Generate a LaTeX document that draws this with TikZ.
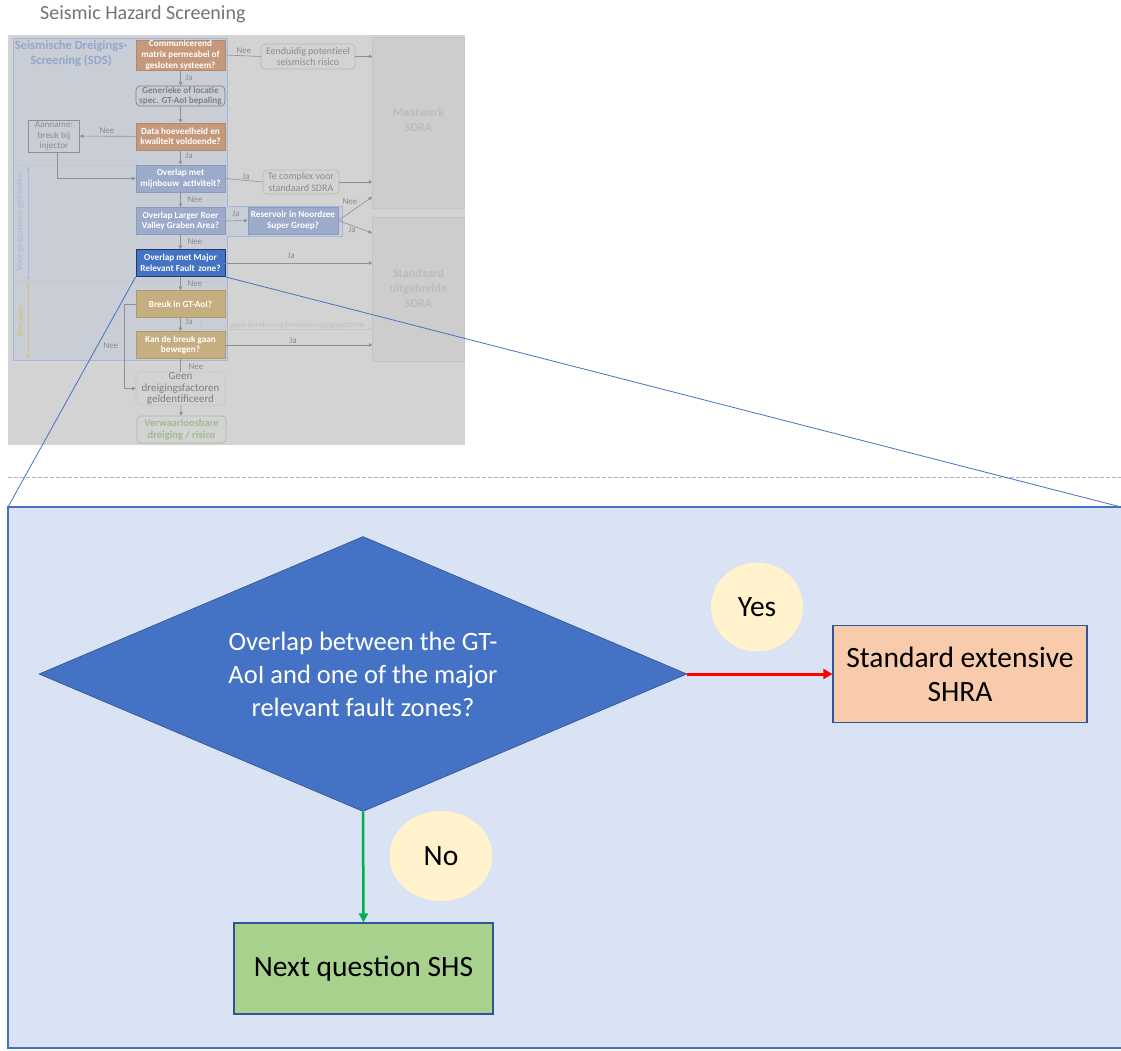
\documentclass[tikz,border=0pt]{standalone}
\usepackage{fontspec}
\setmainfont{Carlito}
\usetikzlibrary{arrows.meta,shapes.geometric,calc}
\definecolor{cBg}{HTML}{D3D3D3}
\definecolor{cPanel}{HTML}{C9CDD6}
\definecolor{cPanelD}{HTML}{A4B7DA}
\definecolor{cPanelT}{HTML}{93A7CC}
\definecolor{cOr}{HTML}{C6997B}
\definecolor{cOrD}{HTML}{B08A70}
\definecolor{cBl}{HTML}{9BABC9}
\definecolor{cBlD}{HTML}{8A9BBD}
\definecolor{cDB}{HTML}{4472C4}
\definecolor{cDBD}{HTML}{2F528F}
\definecolor{cGo}{HTML}{C5AE80}
\definecolor{cGoD}{HTML}{B09A6E}
\definecolor{cTxt}{HTML}{8C8C8C}
\definecolor{cLine}{HTML}{909090}
\definecolor{cMaat}{HTML}{CDCDCD}
\definecolor{cMaatD}{HTML}{C4C4C4}
\definecolor{cMaatT}{HTML}{BCBCBC}
\definecolor{cGreenT}{HTML}{A2BA92}
\definecolor{cGreenD}{HTML}{A6BE98}
\definecolor{cVoor}{HTML}{A7BADB}
\definecolor{cBreuk}{HTML}{D4BF8A}
\definecolor{cBig}{HTML}{DAE3F3}
\definecolor{cYes}{HTML}{FFF2CC}
\definecolor{cStd}{HTML}{F8CBAD}
\definecolor{cNext}{HTML}{A9D18E}
\definecolor{cBoxD}{HTML}{2F5597}
\definecolor{cGreenA}{HTML}{00B050}
\begin{document}
\begin{tikzpicture}[x=1pt,y=-1pt,
  thumbq/.style={rectangle,minimum width=89pt,minimum height=27pt,inner sep=0pt,align=center,text=white,line width=0.8pt,font=\fontsize{9.2}{10.6}\selectfont\bfseries},
  orangeq/.style={thumbq,fill=cOr,draw=cOrD},
  blueq/.style={thumbq,fill=cBl,draw=cBlD},
  darkq/.style={thumbq,fill=cDB,draw=cDBD!70!black},
  goldq/.style={thumbq,fill=cGo,draw=cGoD},
  roundq/.style={rectangle,rounded corners=4pt,inner sep=0pt,align=center,line width=0.7pt,font=\fontsize{10}{11.2}\selectfont},
  bigbox/.style={rectangle,fill=cMaat,draw=cMaatD,inner sep=0pt},
  bigtext/.style={text=cMaatT,font=\fontsize{12}{15}\selectfont\bfseries,align=center,inner sep=0pt},
  tline/.style={draw=cLine,line width=0.6pt},
  tarr/.style={tline,-{Triangle[length=3.5pt,width=3.5pt]}},
  tlab/.style={font=\fontsize{9}{10}\selectfont,text=cTxt,inner sep=0pt},
  bubble/.style={ellipse,fill=cYes,inner sep=0pt,font=\fontsize{29.5}{34}\selectfont},
  mainbox/.style={rectangle,draw=cBoxD,line width=1.2pt,inner sep=0pt,align=center,font=\fontsize{29.5}{34}\selectfont}
]
\useasboundingbox (0,0) rectangle (1121,1051);
\fill[white] (0,0) rectangle (1121,1051);
% title
\node[font=\fontsize{20}{24}\selectfont,text=black!55,anchor=west,inner sep=0pt] (title) at (40,14) {Seismic Hazard Screening};
% thumbnail background
\fill[cBg] (8,35) rectangle (465,445);
% SDS panel
\filldraw[fill=cPanel,draw=cPanelD,line width=0.8pt] (13,38) -- (227,38) -- (227,206) -- (342,206) -- (342,236) -- (227,236) -- (227,360) -- (13,360) -- cycle;
\draw[cPanelD!60!cPanel,dotted,line width=0.5pt] (14,165) -- (226,165);
\draw[cPanelD!60!cPanel,dotted,line width=0.5pt] (14,281) -- (226,281);
\node[align=center,text=cPanelT,font=\fontsize{12.6}{15}\selectfont\bfseries,inner sep=0pt] (sds) at (71,54) {Seismische Dreigings-\\Screening (SDS)};
% big right boxes
\node[bigbox,minimum width=92pt,minimum height=171pt] (maat) at (418.5,122.5) {};
\node[bigtext] (maatT) at (418.5,120) {Maatwerk\\SDRA};
\node[bigbox,minimum width=92pt,minimum height=144pt] (std) at (418.5,289) {};
\node[bigtext] (stdT) at (418.5,288) {Standaard\\uitgebreide\\SDRA};
% thumbnail boxes
\node[orangeq,minimum height=30pt] (b1) at (180.5,55) {Communicerend\\matrix permeabel of\\gesloten systeem?};
\node[roundq,draw=black!50,text=black!50,minimum width=89pt,minimum height=20pt,font=\fontsize{9.2}{10.4}\selectfont\bfseries] (b2) at (180.5,96) {Generieke of locatie\\spec. GT-AoI bepaling};
\node[orangeq] (b3) at (180.5,136.5) {Data hoeveelheid en\\kwaliteit voldoende?};
\node[rectangle,draw=cLine,line width=0.6pt,minimum width=51pt,minimum height=32pt,inner sep=0pt,align=center,text=cTxt,font=\fontsize{9.2}{10.6}\selectfont] (aan) at (54,136) {Aanname:\\breuk bij\\injector};
\node[blueq] (b4) at (180.5,178.5) {Overlap met\\mijnbouw\, activiteit?};
\node[blueq] (b5) at (180.5,221) {Overlap Larger Roer\\Valley Graben Area?};
\node[darkq] (b6) at (180.5,263) {Overlap met Major\\Relevant Fault\, zone?};
\node[goldq] (b7) at (180.5,304) {Breuk in GT-AoI?};
\node[goldq] (b8) at (180.5,345) {Kan de breuk gaan\\bewegen?};
\node[roundq,draw=black!22,text=cTxt!90!black,minimum width=89pt,minimum height=33pt,font=\fontsize{11}{11.5}\selectfont] (b9) at (180.5,388.5) {Geen\\dreigingsfactoren\\geïdentificeerd};
\node[roundq,draw=cGreenD,text=cGreenT,minimum width=89pt,minimum height=27pt,font=\fontsize{10.5}{11.5}\selectfont\bfseries] (b10) at (181.5,429.5) {Verwaarloosbare\\dreiging / risico};
\node[roundq,draw=black!28,text=cTxt,minimum width=94pt,minimum height=25pt] (e1) at (308,56.5) {Eenduidig potentieel\\seismisch risico};
\node[roundq,draw=black!28,text=cTxt,minimum width=76pt,minimum height=24pt] (tc) at (301,182) {Te complex voor\\standaard SDRA};
\node[blueq,minimum width=90pt] (res) at (293,220.5) {Reservoir in Noordzee\\Super Groep?};
% thumbnail connectors
\draw[tarr] (b1) -- (b2);
\node[tlab] (l1) at (189,78) {Ja};
\draw[tarr] (b2) -- (b3);
\draw[tarr] (b3) -- (aan);
\node[tlab] (l2) at (107,131) {Nee};
\draw[tarr] (b3) -- (b4);
\node[tlab] (l3) at (189,156) {Ja};
\draw[tarr] ([xshift=3pt]aan.south) |- (b4.west);
\draw[tarr] (b4) -- (b5);
\node[tlab] (l4) at (195,200) {Nee};
\draw[tarr] (b5) -- (b6);
\node[tlab] (l5) at (195,242) {Nee};
\draw[tarr] (b6) -- (b7);
\node[tlab] (l6) at (195,284) {Nee};
\draw[tarr] (b7) -- (b8);
\node[tlab] (l7) at (189,322) {Ja};
\draw[tline] (b8) -- (b9);
\node[tlab] (l8) at (196,367) {Nee};
\draw[tarr] (b9) -- (b10);
\coordinate (nl) at (124,304);
\draw[tarr] (b7.west) -- (nl) |- (b9.west);
\node[tlab] (l9) at (111,346) {Nee};
\draw[tline] (b1.east) -- (e1.west);
\node[tlab] (l10) at (244,51) {Nee};
\draw[tarr] (e1.east) -- (e1.east -| maat.west);
\draw[tline] (b4.east) -- (tc.west);
\node[tlab] (l11) at (246,177) {Ja};
\draw[tarr] (tc.east) -- (tc.east -| maat.west);
\draw[tarr] (b5.east) -- (res.west);
\node[tlab] (l12) at (236,214) {Ja};
\coordinate (rn) at (372,197);
\coordinate (rj) at (372,233);
\draw[tarr] (res.east) -- (rn);
\draw[tarr] (res.east) -- (rj);
\node[tlab] (l13) at (350,202) {Nee};
\node[tlab] (l14) at (352,230) {Ja};
\draw[tarr] (b6.east) -- (b6.east -| std.west);
\node[tlab] (l15) at (291,256) {Ja};
\coordinate (gb) at (200,329);
\draw[tarr,draw=black!22] (b7.south -| gb) -- (gb) -- (gb -| std.west);
\node[tlab,text=black!25,font=\fontsize{7.9}{9}\selectfont] (l16) at (298,325) {geen berekening breukbewegingspotentie};
\draw[tarr] (b8.east) -- (b8.east -| std.west);
\node[tlab] (l17) at (293,341) {Ja};
% side arrows
\coordinate (v1) at (28,167);
\coordinate (v2) at (28,280);
\coordinate (w1) at (28,283);
\coordinate (w2) at (28,358);
\draw[cVoor,line width=0.6pt,{Triangle[length=3pt,width=3pt]}-{Triangle[length=3pt,width=3pt]}] (v1) -- (v2);
\draw[cBreuk,line width=0.6pt,{Triangle[length=3pt,width=3pt]}-{Triangle[length=3pt,width=3pt]}] (w1) -- (w2);
\node[rotate=90,text=cVoor,font=\fontsize{9.5}{11}\selectfont,inner sep=0pt] (voor) at (20,222) {Voorgespannen gebieden};
\node[rotate=90,text=cBreuk,font=\fontsize{9}{11}\selectfont\bfseries,inner sep=0pt] (breuk) at (20,321) {Breuken};
% dashed separator
\draw[black!30,dashed,dash pattern=on 4pt off 2pt,line width=0.8pt] (8,477) -- (1121,477);
% big panel
\filldraw[fill=cBig,draw=cDB,line width=1.6pt] (8,507) rectangle (1123,1048);
% zoom lines
\coordinate (zl) at (8,507);
\coordinate (zr) at (1121,507);
\draw[cDB,line width=0.8pt] (b6.south west) -- (zl);
\draw[cDB,line width=0.8pt] (b6.south east) -- (zr);
% main diagram
\node[diamond,fill=cDB,draw=cDBD,line width=0.6pt,minimum width=648pt,minimum height=275pt,aspect=2.36,inner sep=0pt] (q) at (363,674) {};
\node[text=white,align=center,font=\fontsize{26.5}{33}\selectfont,inner sep=0pt] (qt) at (363,674) {Overlap between the GT-\\AoI and one of the major\\relevant fault zones?};
\node[mainbox,fill=cStd,minimum width=254pt,minimum height=97pt] (sh) at (960,674) {Standard extensive\\SHRA};
\node[mainbox,fill=cNext,minimum width=259pt,minimum height=91pt] (nx) at (363.5,968.5) {Next question SHS};
\node[bubble,minimum width=92pt,minimum height=89pt] (yes) at (757,607) {Yes};
\node[bubble,minimum width=103pt,minimum height=90pt] (no) at (441,856) {No};
\draw[red,line width=3pt,-{Triangle[length=9pt,width=10pt]}] (q.east) -- (sh.west);
\draw[cGreenA,line width=2.5pt,-{Triangle[length=9pt,width=9pt]}] (q.south) -- (nx.north);
\end{tikzpicture}
\end{document}
